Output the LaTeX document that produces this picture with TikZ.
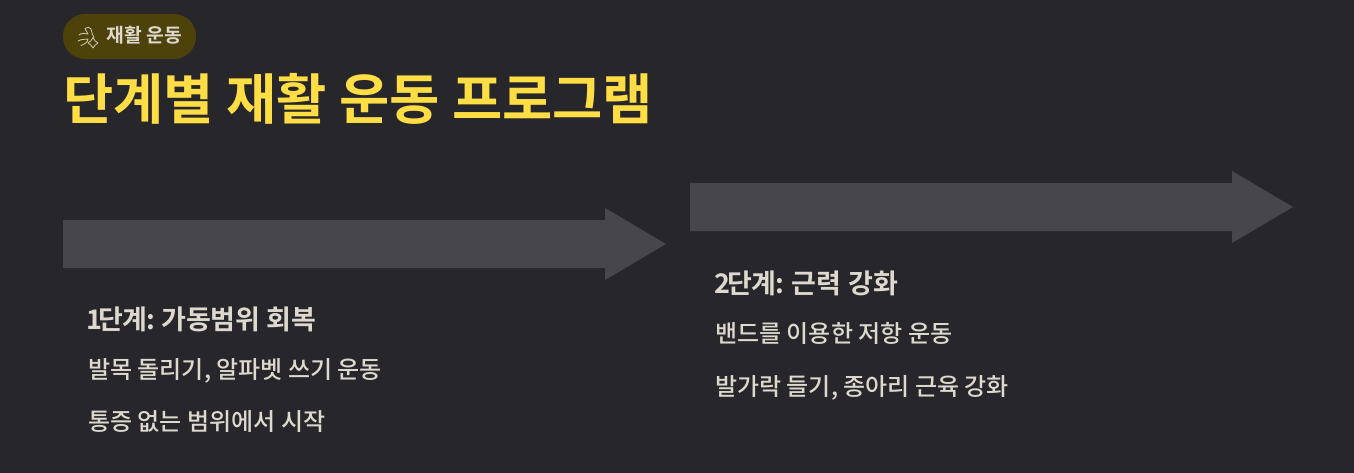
\documentclass[tikz,border=0pt]{standalone}
\usepackage{fontspec}
\setmainfont{Noto Sans CJK KR}
\newfontfamily\krbold{Noto Sans CJK KR Bold}
\newfontfamily\krmed{Noto Sans CJK KR Medium}
\definecolor{bgc}{HTML}{26262B}
\definecolor{arrowc}{HTML}{46464B}
\definecolor{titlec}{HTML}{FFDD44}
\definecolor{pillc}{HTML}{4D4209}
\definecolor{txtc}{HTML}{DDD9CF}
\definecolor{iconc}{HTML}{CFCAB4}
\tikzset{
  x=1pt,y=-1pt,
  txt/.style={anchor=base west,inner sep=0pt,text=txtc,font=\krmed\fontsize{24}{24}\selectfont},
  head/.style={anchor=base west,inner sep=0pt,text=txtc,font=\krbold\fontsize{27}{27}\selectfont},
  bigarrow/.style={fill=arrowc,draw=none},
  iconline/.style={draw=iconc,line width=0.8pt,line cap=round,line join=round}
}
\begin{document}
\begin{tikzpicture}
\useasboundingbox (0,0) rectangle (1354,473);
\fill[bgc] (0,0) rectangle (1354,473);
\fill[pillc,rounded corners=22pt] (63,14) rectangle (196,59);
% icon
\draw[iconline] (79,35) .. controls (81,33) and (85,33) .. (88,34) .. controls (87,31) and (85,30) .. (85,28.5) .. controls (87,26.5) and (90,27) .. (91,29) .. controls (92,32) and (92,35) .. (94,37.5);
\draw[iconline] (78,41) .. controls (81,39) and (85,39.5) .. (88,39) .. controls (88,42) and (85,44) .. (81,45.5);
\draw[iconline] (93,37.5) .. controls (94,40) and (96,42) .. (98,43) .. controls (96,44) and (94,46) .. (93,48) .. controls (92,46) and (90,44) .. (88,43) .. controls (90,42) and (92,40) .. (93,37.5) -- cycle;
\node[anchor=base west,inner sep=0pt,text=txtc,font=\krbold\fontsize{19.3}{19}\selectfont] (pill) at (106.5,43) {재활 운동};
\node[anchor=base west,inner sep=0pt,text=titlec,font=\krbold\fontsize{54.6}{55}\selectfont] (title) at (63,119.5) {단계별 재활 운동 프로그램};
\fill[bigarrow] (63,220) -- (605,220) -- (605,208) -- (666,244) -- (605,280) -- (605,268) -- (63,268) -- cycle;
\fill[bigarrow] (690,183) -- (1232,183) -- (1232,171) -- (1293,207) -- (1232,243) -- (1232,231) -- (690,231) -- cycle;
\node[head] (s1) at (86.5,329) {1\kern-4.5pt 단계\kern-1pt:\kern-2.5pt{} 가동범위 회복};
\node[txt] (s1a) at (88,378.5) {발목 돌리기, 알파벳 쓰기 운동};
\node[txt] (s1b) at (88,430.5) {통증 없는 범위에서 시작};
\node[head] (s2) at (714,293.5) {2\kern-3pt 단계\kern-1pt:\kern-1pt{} 근력\kern1pt{} 강화};
\node[txt] (s2a) at (715,342) {밴드를 이용한 저항 운동};
\node[txt] (s2b) at (715,395) {발가락 들기, 종아리 근육 강화};
\end{tikzpicture}
\end{document}
